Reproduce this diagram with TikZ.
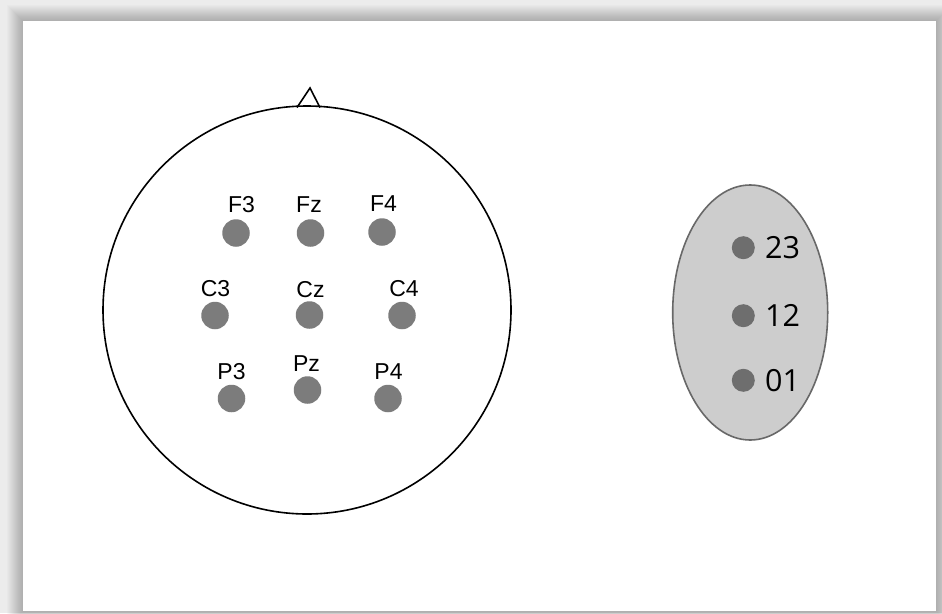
\documentclass[tikz,border=0pt]{standalone}
\usepackage{fontspec}
\setmainfont{Liberation Sans}
\newfontfamily\numfont{Open Sans}
\definecolor{elecgray}{HTML}{7C7C7C}
\definecolor{refgray}{HTML}{6E6E6E}
\definecolor{earfill}{HTML}{CDCDCD}
\definecolor{earline}{HTML}{686868}
\begin{document}
\begin{tikzpicture}[x=1pt, y=-1pt,
	elec/.style={circle, fill=elecgray, minimum size=27.5pt, inner sep=0pt},
	refdot/.style={circle, fill=refgray, minimum size=23pt, inner sep=0pt},
	elabel/.style={font=\fontsize{23}{23}\selectfont, inner sep=0pt},
	rlabel/.style={font=\numfont\fontsize{30.5}{30.5}\selectfont, inner sep=0pt, anchor=west}]
	\useasboundingbox (0, 0) rectangle (942, 613);
	% backdrop and shadow of the sheet
	\fill[gray!15] (0, 0) rectangle (942, 613);
	\foreach \k in {16,...,1}
		\fill[black, opacity=0.014] (23-\k, 21-\k) rectangle (936+\k, 611+\k);
	\fill[white] (23, 21) rectangle (936, 611);
	% head
	\draw[line width=1.6pt] (307, 310) circle (204);
	\draw[line width=1.6pt, line join=miter] (297, 107.5) -- (310, 88) -- (320, 107.5);
	% electrodes
	\node[elec] (f3) at (236, 233) {};
	\node[elec] (fz) at (310.5, 233) {};
	\node[elec] (f4) at (382, 232) {};
	\node[elec] (c3) at (215, 315.5) {};
	\node[elec] (cz) at (309.5, 315) {};
	\node[elec] (c4) at (402, 315.5) {};
	\node[elec] (p3) at (231.5, 398.5) {};
	\node[elec] (pz) at (307.5, 390) {};
	\node[elec] (p4) at (388, 398.5) {};
	\node[elabel] (f3l) at (241.5, 205) {F3};
	\node[elabel] (fzl) at (309, 205) {Fz};
	\node[elabel] (f4l) at (383.5, 204) {F4};
	\node[elabel] (c3l) at (215.5, 288.5) {C3};
	\node[elabel] (czl) at (310.5, 290) {Cz};
	\node[elabel] (c4l) at (404, 288.5) {C4};
	\node[elabel] (p3l) at (231.5, 371.5) {P3};
	\node[elabel] (pzl) at (306.5, 363.5) {Pz};
	\node[elabel] (p4l) at (388.5, 371.5) {P4};
	% ear clip
	\draw[earline, fill=earfill, line width=1.6pt] (750.2, 312.5) ellipse (77.5 and 127.5);
	\node[refdot] (r23) at (743.3, 247.7) {};
	\node[refdot] (r12) at (743.3, 315.7) {};
	\node[refdot] (r01) at (743.3, 380.3) {};
	\node[rlabel] (r23l) at (765, 247.7) {23};
	\node[rlabel] (r12l) at (765, 315.7) {12};
	\node[rlabel] (r01l) at (765, 380.3) {01};
\end{tikzpicture}
\end{document}
